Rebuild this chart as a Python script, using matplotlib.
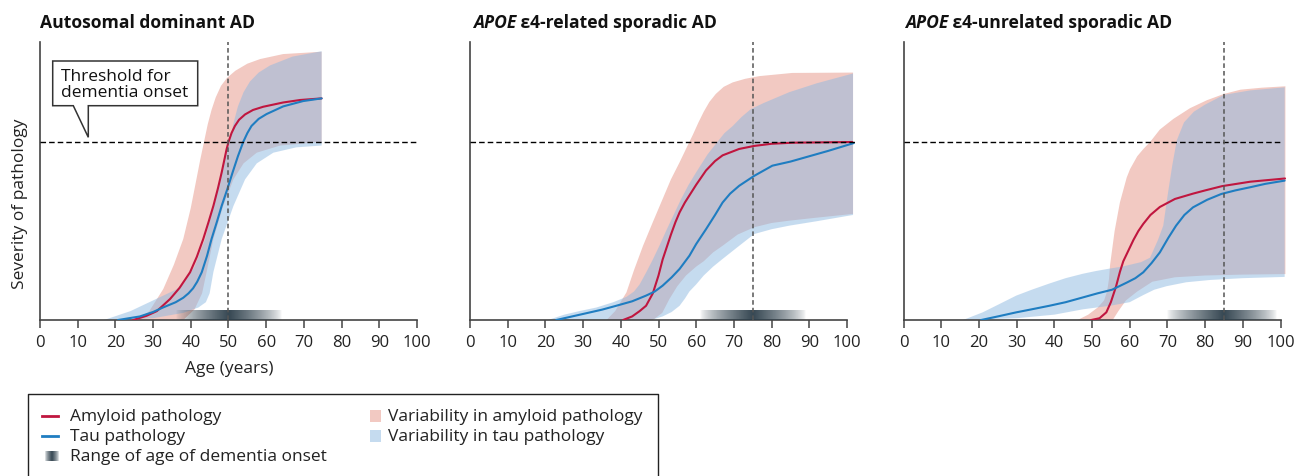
import numpy as np
import matplotlib
matplotlib.use('Agg')
import matplotlib.pyplot as plt
from matplotlib.patches import Polygon, Rectangle

plt.rcParams['font.family'] = ['Open Sans', 'DejaVu Sans']

# ---------------- data (age in years, severity; threshold = 1) ----------------
age_ticks = list(range(0, 101, 10))
threshold = 1.0
onset_age = [50, 75, 85]
onset_range = [(36, 64), (61, 89), (70, 99)]

# Panel 1: autosomal dominant AD
ad_amyloid = [(24.7, 0.0), (28.3, 0.024), (31, 0.05), (34.5, 0.118), (37, 0.18), (39.8, 0.268),
              (41.6, 0.355), (43.3, 0.455), (44.7, 0.55), (46, 0.642), (47.2, 0.74),
              (48.2, 0.83), (48.9, 0.9), (49.5, 0.96), (50, 1.0), (50.8, 1.05),
              (51.7, 1.09), (52.8, 1.125), (54.4, 1.155), (56.5, 1.18), (59.2, 1.198),
              (64.5, 1.222), (69, 1.236), (74.7, 1.245)]
ad_tau = [(20.7, 0.0), (26.5, 0.02), (30, 0.045), (32.6, 0.07), (36, 0.1), (38, 0.125),
          (39.4, 0.15), (40.6, 0.178), (41.7, 0.215), (42.9, 0.268), (44.3, 0.36), (45.5, 0.455),
          (46.9, 0.55), (48.2, 0.642), (49.7, 0.736), (51.1, 0.83), (52.5, 0.92), (53.9, 1.0),
          (55, 1.05), (56.1, 1.09), (58, 1.13), (60.1, 1.157), (64.5, 1.2), (69.8, 1.23),
          (74.7, 1.245)]
ad_amyloid_hi = [(26, 0.0), (29, 0.05), (32.7, 0.174), (35.5, 0.31), (38, 0.455), (40, 0.63),
                 (41.3, 0.77), (42.5, 0.9), (43.5, 1.0), (44.5, 1.1), (45.5, 1.18), (46.6, 1.25),
                 (48, 1.315), (49.6, 1.36), (51.8, 1.4), (55, 1.44), (58.4, 1.466),
                 (64.5, 1.494), (74.7, 1.507)]
ad_amyloid_lo = [(26, 0.0), (38, 0.0), (41, 0.06), (43, 0.15), (44.2, 0.27), (46, 0.455),
                 (48.6, 0.64), (51.3, 0.79), (54, 0.88), (57.5, 0.94), (63.7, 0.98), (74.7, 1.0)]
ad_tau_hi = [(17, 0.0), (24, 0.05), (29, 0.1), (33, 0.14), (36, 0.17), (38, 0.2), (41, 0.3),
             (43.8, 0.455), (45.5, 0.6), (47.2, 0.736), (48.6, 0.88), (50.4, 1.017), (51.5, 1.12),
             (52.5, 1.2), (54, 1.28), (55.7, 1.34), (58, 1.39), (61, 1.43), (67, 1.48), (74.7, 1.51)]
ad_tau_lo = [(17, 0.0), (30, 0.01), (38, 0.04), (42, 0.07), (44, 0.1), (45, 0.15), (46, 0.27),
             (48.2, 0.455), (51.3, 0.64), (54.4, 0.79), (57.5, 0.88), (61.9, 0.94), (68, 0.97),
             (74.7, 0.98)]

# Panel 2: APOE e4-related sporadic AD
e4_amyloid = [(40.6, 0.0), (43, 0.02), (45, 0.05), (46.7, 0.08), (48.5, 0.15), (50, 0.25),
              (51.1, 0.34), (52.2, 0.41), (53.3, 0.48), (54.5, 0.55), (55.6, 0.605), (57, 0.66),
              (58.2, 0.7), (60, 0.76), (62.6, 0.84), (65, 0.893), (67, 0.925), (71.4, 0.961),
              (75.4, 0.978), (80, 0.99), (85.5, 0.996), (101.4, 1.0)]
e4_tau = [(22.9, 0.0), (30, 0.034), (35, 0.058), (38.8, 0.08), (43, 0.105), (46.7, 0.137),
          (49, 0.16), (51.1, 0.193), (53.5, 0.24), (55.6, 0.287), (58.2, 0.361), (60, 0.427),
          (62.6, 0.51), (65, 0.59), (67, 0.66), (69, 0.71), (71.4, 0.754), (75.4, 0.81),
          (80.2, 0.867), (85, 0.89), (89, 0.914), (95, 0.95), (101.8, 0.994)]
e4_amyloid_hi = [(36.2, 0.0), (38.5, 0.05), (41.5, 0.155), (43.5, 0.28), (45.9, 0.417),
                 (48.5, 0.55), (51.1, 0.68), (53.3, 0.79), (55.6, 0.886), (57.5, 0.97),
                 (59.1, 1.04), (60.6, 1.11), (62, 1.17), (63.5, 1.225), (65.2, 1.27),
                 (67.3, 1.31), (69.7, 1.335), (73, 1.355), (76.7, 1.37), (85.5, 1.388),
                 (101.6, 1.39)]
e4_amyloid_lo = [(36.2, 0.0), (48.5, 0.0), (51, 0.04), (52.9, 0.118), (55, 0.19), (57.3, 0.25),
                 (60, 0.3), (62, 0.33), (64.5, 0.38), (67, 0.417), (71, 0.48), (75.4, 0.521),
                 (80, 0.545), (84.7, 0.558), (92, 0.575), (101.6, 0.596)]
e4_tau_hi = [(20.7, 0.0), (25, 0.03), (29, 0.05), (33.5, 0.07), (38, 0.1), (41.5, 0.13),
             (43.5, 0.16), (45, 0.2), (46.8, 0.27), (48.5, 0.34), (50.3, 0.42), (52, 0.5),
             (54, 0.59), (56, 0.68), (58, 0.76), (60, 0.83), (61.5, 0.88), (63, 0.93),
             (65.6, 1.0), (67.5, 1.05), (69.7, 1.09), (72, 1.14), (74.5, 1.185), (78, 1.22),
             (84.7, 1.28), (92, 1.33), (101.6, 1.385)]
e4_tau_lo = [(20.7, 0.0), (48, 0.0), (51.1, 0.02), (53.5, 0.045), (55.6, 0.08), (57, 0.12),
             (58.2, 0.16), (60, 0.2), (62, 0.25), (64.5, 0.3), (67, 0.343), (71, 0.41),
             (75.4, 0.483), (80, 0.51), (84.7, 0.53), (92, 0.555), (101.6, 0.59)]

# Panel 3: APOE e4-unrelated sporadic AD
un_amyloid = [(49.8, 0.0), (52, 0.01), (53.8, 0.043), (55, 0.1), (56.4, 0.19), (57.4, 0.27),
              (58.3, 0.33), (59.2, 0.37), (61, 0.45), (62.3, 0.5), (63.6, 0.54), (65.5, 0.59),
              (68, 0.635), (72, 0.68), (76.8, 0.71), (80, 0.728), (84.5, 0.752), (92, 0.777),
              (101.2, 0.795)]
un_tau = [(20.6, 0.0), (25, 0.02), (29.9, 0.043), (34, 0.06), (38.7, 0.08), (43, 0.1),
          (47.6, 0.127), (51.5, 0.15), (55.3, 0.17), (59.2, 0.21), (61.5, 0.235), (63.6, 0.268),
          (65.8, 0.32), (68, 0.38), (70.2, 0.46), (72.3, 0.53), (74.5, 0.59), (76.8, 0.633),
          (80.5, 0.675), (84.3, 0.708), (88, 0.728), (92, 0.746), (96, 0.765), (101.1, 0.783)]
un_amyloid_hi = [(46.2, 0.0), (49, 0.03), (51.5, 0.07), (53.2, 0.11), (54, 0.16), (54.5, 0.23),
                 (54.8, 0.31), (56, 0.5), (57.4, 0.66), (59.2, 0.8), (60.1, 0.848), (62, 0.92),
                 (63.6, 0.96), (65.4, 1.0), (68, 1.07), (71.6, 1.13), (76, 1.19), (80.5, 1.235),
                 (85, 1.27), (89.4, 1.294), (95, 1.305), (101.3, 1.313)]
un_amyloid_lo = [(46.2, 0.0), (55.5, 0.0), (57, 0.05), (59, 0.11), (62, 0.16), (66, 0.215),
                 (72, 0.24), (80, 0.25), (90, 0.255), (101.3, 0.258)]
un_tau_hi = [(15.8, 0.0), (21, 0.043), (25, 0.085), (29.9, 0.137), (34, 0.17), (38.7, 0.205),
             (43, 0.235), (47.6, 0.26), (51, 0.275), (55, 0.29), (58, 0.3), (61, 0.315),
             (63, 0.325), (65.4, 0.35), (67.5, 0.45), (68.9, 0.53), (70.2, 0.72), (71.3, 0.87),
             (72.5, 1.01), (74.4, 1.11), (77, 1.17), (80, 1.21), (85, 1.265), (92, 1.29),
             (101.1, 1.307)]
un_tau_lo = [(15.8, 0.0), (30, 0.01), (40, 0.03), (47.6, 0.06), (54.8, 0.08), (60, 0.1),
             (63.6, 0.14), (66.5, 0.17), (69.8, 0.19), (75, 0.212), (81.4, 0.225), (90, 0.235),
             (101.1, 0.242)]

panels = [
    dict(amy=ad_amyloid, tau=ad_tau, amy_hi=ad_amyloid_hi, amy_lo=ad_amyloid_lo,
         tau_hi=ad_tau_hi, tau_lo=ad_tau_lo),
    dict(amy=e4_amyloid, tau=e4_tau, amy_hi=e4_amyloid_hi, amy_lo=e4_amyloid_lo,
         tau_hi=e4_tau_hi, tau_lo=e4_tau_lo),
    dict(amy=un_amyloid, tau=un_tau, amy_hi=un_amyloid_hi, amy_lo=un_amyloid_lo,
         tau_hi=un_tau_hi, tau_lo=un_tau_lo),
]

# ---------------- styles / layout ----------------
RED = '#C0163F'
BLUE = '#1F7DC1'
PINK = '#F2C9C2'
TAU_C = '#8DB9E1'
TAU_ALPHA = 0.5
DARK = np.array([0.17, 0.24, 0.29])
FS = 12.5
TFS = 12.6

W, H = 1305, 477
fig = plt.figure(figsize=(W / 100, H / 100), dpi=100)
left_px = [40, 470, 903.5]
ppy = 3.77
base_py, top_py = 321, 43
unit_px = 178.0
ymax = (base_py - top_py) / unit_px
xmax = 103
thr_end = [100, 102, 100]


def band(ax, hi, lo, **kw):
    hi = np.array(hi)
    lo = np.array(lo)
    verts = np.vstack([hi, lo[::-1]])
    ax.add_patch(Polygon(verts, closed=True, ec='none', **kw))


def gradient_img(n=300):
    xs = np.linspace(-1, 1, n)
    a = np.clip(1 - np.abs(xs), 0, 1) ** 0.6
    img = np.zeros((1, n, 4))
    img[..., :3] = DARK
    img[..., 3] = a * 0.95
    return img


for i, p in enumerate(panels):
    ax = fig.add_axes([left_px[i] / W, (H - base_py) / H, xmax * ppy / W,
                       (base_py - top_py) / H])
    band(ax, p['amy_hi'], p['amy_lo'], fc=PINK, zorder=1)
    band(ax, p['tau_hi'], p['tau_lo'], fc=TAU_C, alpha=TAU_ALPHA, zorder=2)

    lo_a, hi_a = onset_range[i]
    c = onset_age[i]
    n = 300
    xs = np.linspace(lo_a, hi_a, n)
    d = np.where(xs < c, (c - xs) / (c - lo_a), (xs - c) / (hi_a - c))
    img = np.zeros((1, n, 4))
    img[..., :3] = DARK
    img[..., 3] = 0.95 * np.clip(1 - d, 0, 1) ** 0.7
    ax.imshow(img, extent=[lo_a, hi_a, 0, 0.052], aspect='auto', zorder=3,
              interpolation='bilinear')

    ax.plot(*np.array(p['amy']).T, color=RED, lw=1.5, zorder=4, solid_capstyle='round')
    ax.plot(*np.array(p['tau']).T, color=BLUE, lw=1.5, zorder=4, solid_capstyle='round')

    ax.plot([0, thr_end[i]], [threshold, threshold], color='black', lw=1.0,
            dashes=(4, 2.2), zorder=5, clip_on=False)
    ax.plot([c, c], [0, ymax], color='#555555', lw=1.1, dashes=(3, 2), zorder=5,
            clip_on=False)

    ax.set_xlim(0, xmax)
    ax.set_ylim(0, ymax)
    ax.patch.set_alpha(0)
    for s in ['top', 'right']:
        ax.spines[s].set_visible(False)
    for s in ['left', 'bottom']:
        ax.spines[s].set_color('#444444')
        ax.spines[s].set_linewidth(1.2)
    ax.spines['bottom'].set_bounds(0, 100)
    ax.set_xticks(age_ticks)
    ax.set_xticklabels([str(t) for t in age_ticks])
    ax.set_yticks([])
    ax.tick_params(axis='x', length=6, width=1.1, color='#444444', labelsize=12, pad=4,
                   labelcolor='#222222')

# ---------------- overlay for text and annotations ----------------
ov = fig.add_axes([0, 0, 1, 1], zorder=10)
ov.patch.set_alpha(0)
ov.axis('off')
ov.set_xlim(0, W)
ov.set_ylim(H, 0)

ov.text(40, 28, 'Autosomal dominant AD', fontsize=TFS, weight='bold', va='baseline',
        color='#111111')
fig.canvas.draw()
rend = fig.canvas.get_renderer()
for x0, rest in [(473, ' ε4-related sporadic AD'), (905, ' ε4-unrelated sporadic AD')]:
    t = ov.text(x0, 28, 'APOE', fontsize=TFS, weight='bold', style='italic', va='baseline',
                color='#111111')
    bb = t.get_window_extent(rend)
    ov.text(bb.x1, 28, rest, fontsize=TFS, weight='bold', va='baseline', color='#111111')

ov.text(20, 204, 'Severity of pathology', rotation=90, ha='center', va='center', fontsize=FS,
        color='#222222')
ov.text(229, 369, 'Age (years)', ha='center', va='center', fontsize=FS, color='#222222')

# callout
call = [(52.7, 62), (197.7, 62), (197.7, 106.7), (88.3, 106.7), (88.3, 138.3),
        (73.3, 106.7), (52.7, 106.7)]
ov.add_patch(Polygon(call, closed=True, fc='white', ec='#333333', lw=1.1, zorder=5))
ov.text(61, 85, 'Threshold for\ndementia onset', ha='left', va='center', fontsize=FS,
        linespacing=1.02, color='#111111', zorder=6)

# legend
ov.plot([28, 28, 658, 658], [490, 395, 395, 490], color='#222222', lw=1.0, clip_on=False)
ov.plot([42, 58], [417, 417], color=RED, lw=2)
ov.text(70, 417, 'Amyloid pathology', va='center', fontsize=FS, color='#222222')
ov.plot([42, 58], [437, 437], color=BLUE, lw=2)
ov.text(70, 437, 'Tau pathology', va='center', fontsize=FS, color='#222222')
ov.imshow(gradient_img(), extent=[45, 59, 462, 452], aspect='auto', interpolation='bilinear')
ov.text(70, 457, 'Range of age of dementia onset', va='center', fontsize=FS, color='#222222')
ov.add_patch(Rectangle((370, 411), 11, 12, fc=PINK, ec='none'))
ov.text(388, 417, 'Variability in amyloid pathology', va='center', fontsize=FS,
        color='#222222')
ov.add_patch(Rectangle((370, 431), 11, 12, fc=TAU_C, alpha=TAU_ALPHA, ec='none'))
ov.text(388, 437, 'Variability in tau pathology', va='center', fontsize=FS, color='#222222')

ov.set_xlim(0, W)
ov.set_ylim(H, 0)

fig.savefig('out.png', dpi=100)
